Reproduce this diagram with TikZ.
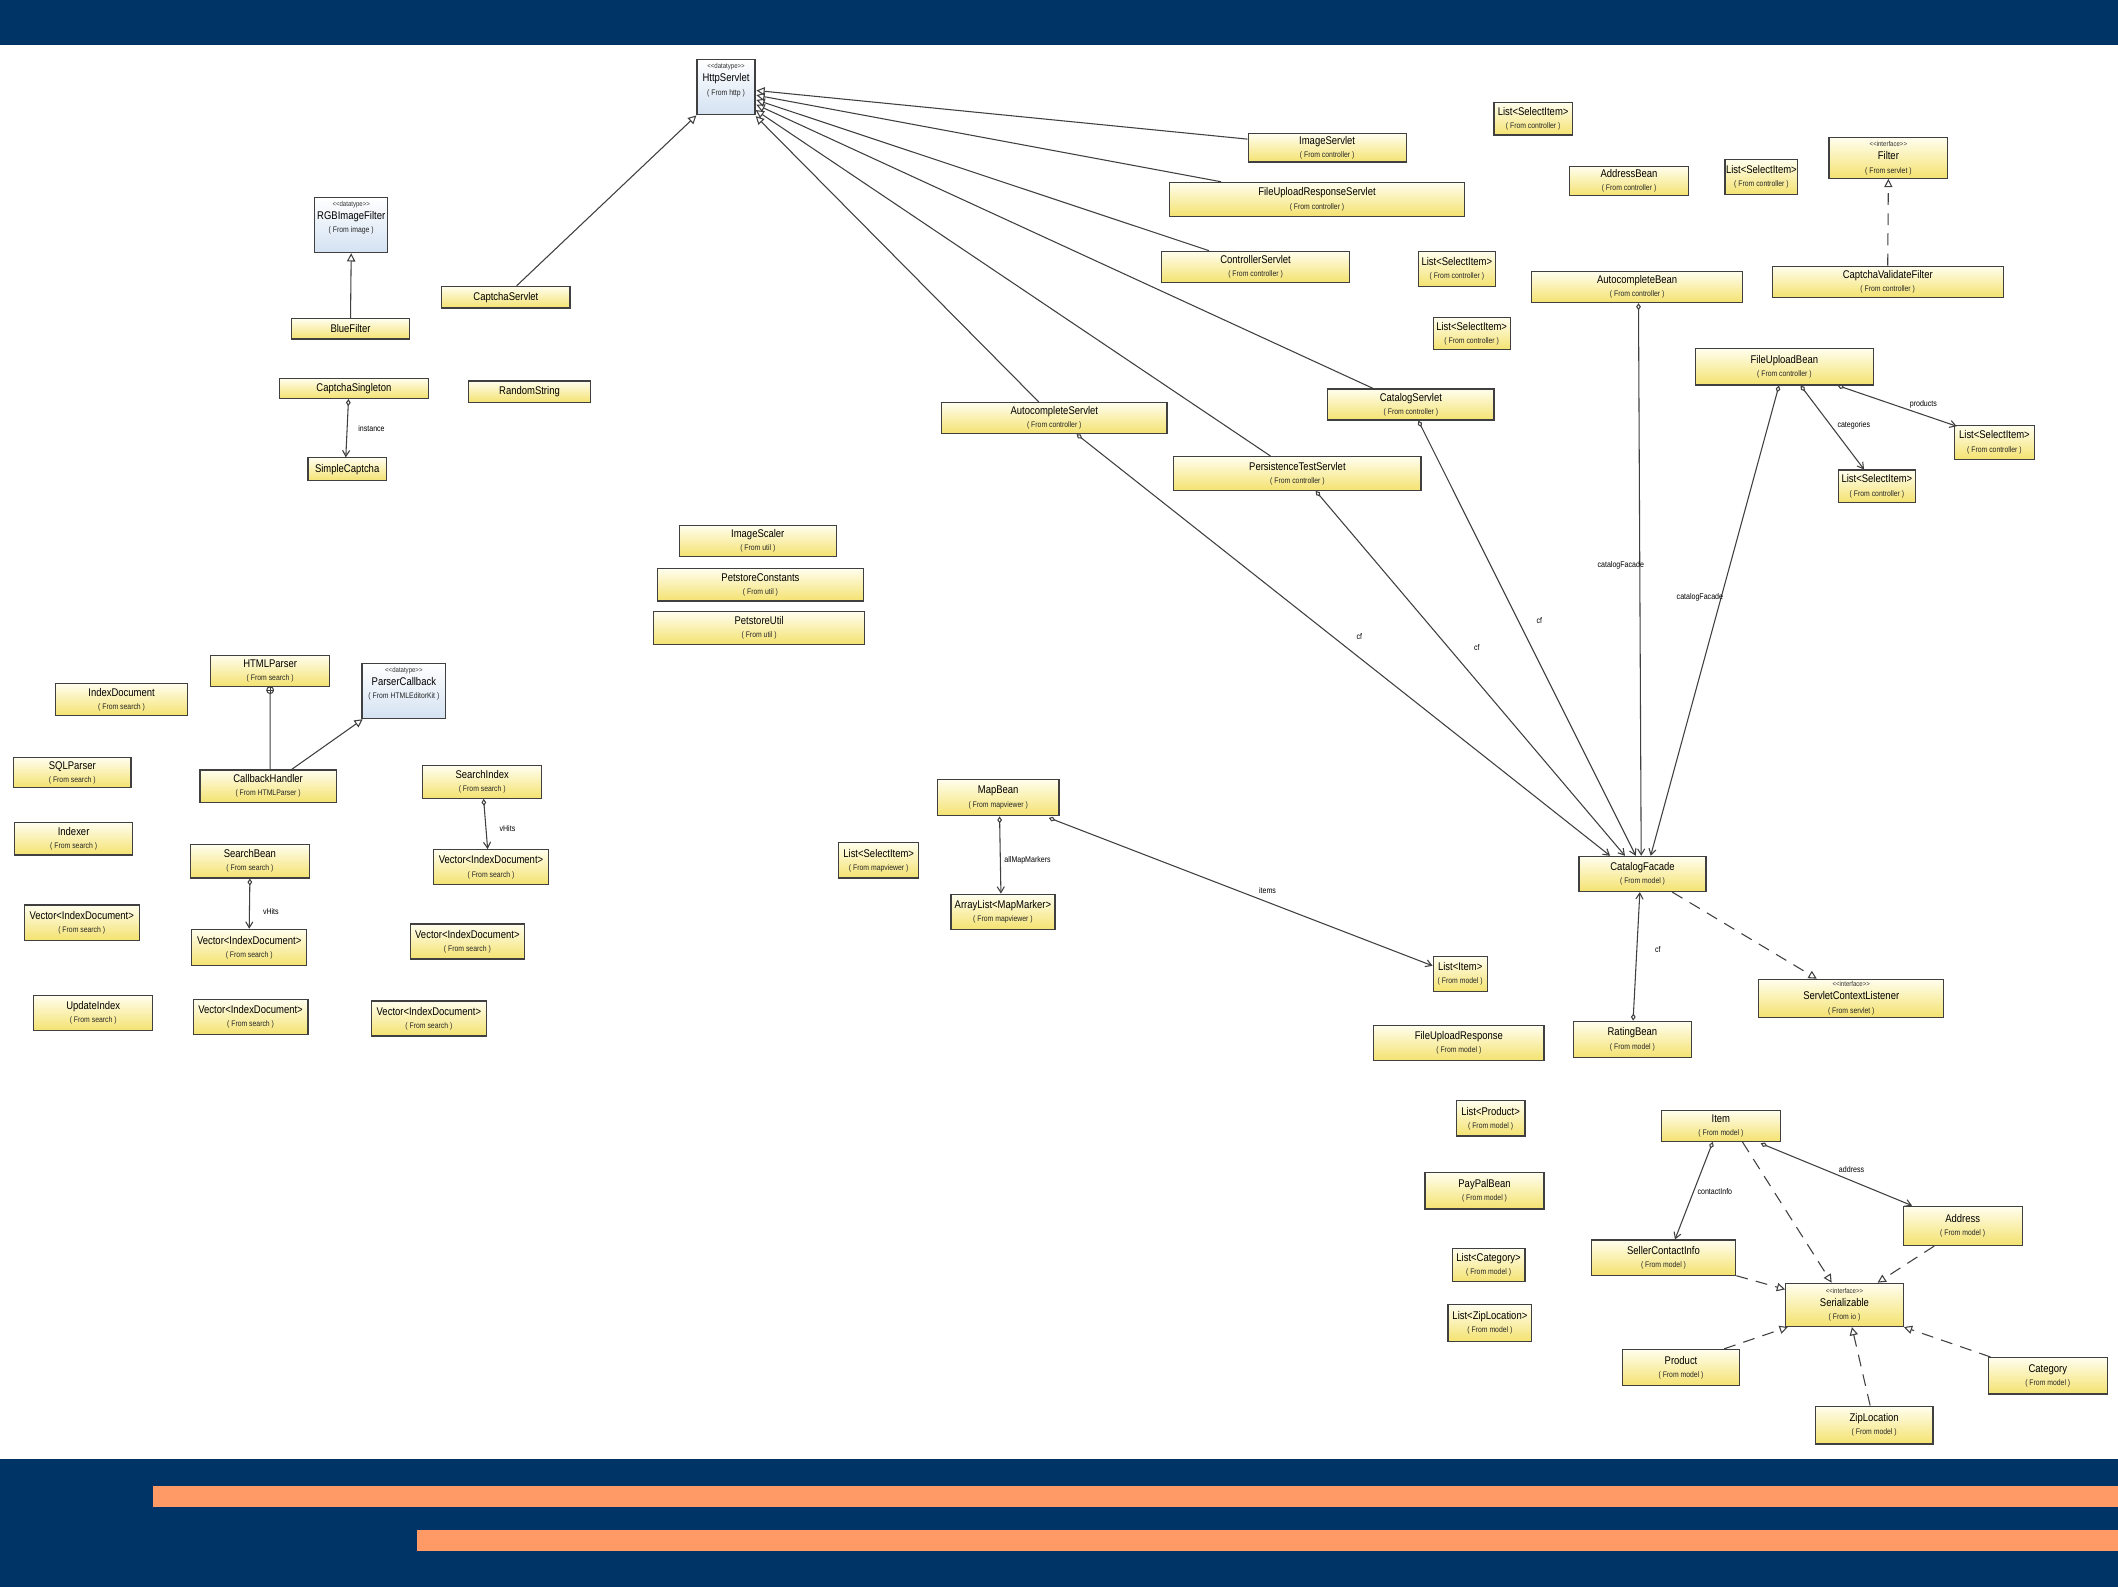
\documentclass[tikz,border=0pt]{standalone}
\usepackage{fontspec}
\usepackage{xcolor}
\usepackage{tikz}
\usetikzlibrary{arrows.meta, calc, positioning}
\newfontfamily\umlfont[FakeStretch=0.85]{Liberation Sans}
\definecolor{navy}{RGB}{0,51,102}
\definecolor{barorange}{RGB}{255,153,102}
\definecolor{boxtop}{RGB}{255,254,238}
\definecolor{boxbot}{RGB}{244,226,112}
\definecolor{dtbot}{RGB}{212,226,242}
\newcommand{\clspkg}[1]{{\fontsize{3.4}{5.6}\selectfont\color{black!85}( From #1 )}}
\newcommand{\clsstereo}[1]{{\fontsize{3}{5.6}\selectfont\color{black!80}<{}<#1>{}>}}

\begin{document}
\begin{tikzpicture}[x=0.02cm, y=-0.02cm,
    cls/.style={draw=black!75, line width=0.5pt, top color=boxtop, bottom color=boxbot, inner sep=0pt, align=center, font=\umlfont\fontsize{4.7}{5.6}\selectfont},
    dtype/.style={cls, top color=white, bottom color=dtbot},
    sz/.style 2 args={minimum width=#1*0.02cm, minimum height=#2*0.02cm},
    conn/.style={draw=black!75, line width=0.45pt},
    gen/.style={conn, -{Triangle[open, length=3.5pt, width=3.5pt]}},
    real/.style={gen, dash pattern=on 5pt off 3.5pt},
    assoc/.style={conn, {Diamond[open, length=3pt, width=2pt]}-{Straight Barb[length=2.5pt, width=3pt]}},
    lbl/.style={font=\umlfont\fontsize{3.5}{4}\selectfont, inner sep=0.5pt}
]
\useasboundingbox (0,0) rectangle (1568,1175);
\fill[white] (0,0) rectangle (1568,1175);
% frame bands
\fill[navy] (0,0) rectangle (1568,33);
\fill[navy] (0,1080) rectangle (1568,1175);
\fill[barorange] (113,1100) rectangle (1568,1116);
\fill[barorange] (309,1133) rectangle (1568,1148);

% captcha / image
\node[dtype, sz={43}{41}] (httpservlet) at (537.5,64.5) {\clsstereo{datatype}\\HttpServlet\\\clspkg{http}\\[1pt]\mbox{}};
\node[dtype, sz={54}{41}] (rgbfilter) at (260,166.5) {\clsstereo{datatype}\\RGBImageFilter\\\clspkg{image}\\[1pt]\mbox{}};
\node[cls, sz={87}{15}] (bluefilter) at (259.5,243.5) {BlueFilter};
\node[cls, sz={95}{16}] (captchaservlet) at (374.5,220) {CaptchaServlet};
\node[cls, sz={110}{15}] (captchasingleton) at (262,287.5) {CaptchaSingleton};
\node[cls, sz={90}{16}] (randomstring) at (392,290) {RandomString};
\node[cls, sz={58}{17}] (simplecaptcha) at (257,347.5) {SimpleCaptcha};

% controller
\node[cls, sz={117}{21}] (imageservlet) at (982.5,109.5) {ImageServlet\\\clspkg{controller}};
\node[cls, sz={218}{25}] (uploadrespservlet) at (975,147.5) {FileUploadResponseServlet\\\clspkg{controller}};
\node[cls, sz={139}{23}] (controllerservlet) at (929.5,197.5) {ControllerServlet\\\clspkg{controller}};
\node[cls, sz={167}{23}] (autocompleteservlet) at (780.5,309.5) {AutocompleteServlet\\\clspkg{controller}};
\node[cls, sz={123}{23}] (catalogservlet) at (1044.5,299.5) {CatalogServlet\\\clspkg{controller}};
\node[cls, sz={183}{25}] (persistservlet) at (960.5,350.5) {PersistenceTestServlet\\\clspkg{controller}};
\node[cls, sz={58}{24}] (sela) at (1135,88) {List<SelectItem>\\\clspkg{controller}};
\node[cls, sz={88}{22}] (addressbean) at (1206,134) {AddressBean\\\clspkg{controller}};
\node[cls, sz={54}{26}] (selb) at (1304,131) {List<SelectItem>\\\clspkg{controller}};
\node[cls, sz={88}{30}] (filter) at (1398,117) {\clsstereo{interface}\\Filter\\\clspkg{servlet}};
\node[cls, sz={57}{26}] (selc) at (1078.5,199) {List<SelectItem>\\\clspkg{controller}};
\node[cls, sz={57}{24}] (seld) at (1089.5,247) {List<SelectItem>\\\clspkg{controller}};
\node[cls, sz={156}{23}] (autocompletebean) at (1212,212.5) {AutocompleteBean\\\clspkg{controller}};
\node[cls, sz={171}{23}] (captchafilter) at (1397.5,208.5) {CaptchaValidateFilter\\\clspkg{controller}};
\node[cls, sz={132}{27}] (fileuploadbean) at (1321,271.5) {FileUploadBean\\\clspkg{controller}};
\node[cls, sz={59}{25}] (sele) at (1476.5,327.5) {List<SelectItem>\\\clspkg{controller}};
\node[cls, sz={57}{24}] (self) at (1389.5,360) {List<SelectItem>\\\clspkg{controller}};

% util
\node[cls, sz={116}{23}] (imagescaler) at (561,400.5) {ImageScaler\\\clspkg{util}};
\node[cls, sz={152}{24}] (petconstants) at (563,433) {PetstoreConstants\\\clspkg{util}};
\node[cls, sz={156}{24}] (petutil) at (562,465) {PetstoreUtil\\\clspkg{util}};

% search
\node[cls, sz={88}{23}] (htmlparser) at (200,496.5) {HTMLParser\\\clspkg{search}};
\node[dtype, sz={62}{41}] (parsercallback) at (299,511.5) {\clsstereo{datatype}\\ParserCallback\\\clspkg{HTMLEditorKit}\\[1pt]\mbox{}};
\node[cls, sz={98}{24}] (indexdocument) at (90,518) {IndexDocument\\\clspkg{search}};
\node[cls, sz={87}{22}] (sqlparser) at (53.5,572) {SQLParser\\\clspkg{search}};
\node[cls, sz={101}{24}] (callbackhandler) at (198.5,582) {CallbackHandler\\\clspkg{HTMLParser}};
\node[cls, sz={88}{24}] (searchindex) at (357,579) {SearchIndex\\\clspkg{search}};
\node[cls, sz={87}{24}] (indexer) at (54.5,621) {Indexer\\\clspkg{search}};
\node[cls, sz={88}{25}] (searchbean) at (185,637.5) {SearchBean\\\clspkg{search}};
\node[cls, sz={85}{26}] (veca) at (363.5,642) {Vector<IndexDocument>\\\clspkg{search}};
\node[cls, sz={85}{26}] (vecb) at (60.5,683) {Vector<IndexDocument>\\\clspkg{search}};
\node[cls, sz={85}{27}] (vecc) at (184.5,701.5) {Vector<IndexDocument>\\\clspkg{search}};
\node[cls, sz={84}{26}] (vecd) at (346,697) {Vector<IndexDocument>\\\clspkg{search}};
\node[cls, sz={88}{26}] (updateindex) at (69,750) {UpdateIndex\\\clspkg{search}};
\node[cls, sz={85}{26}] (vece) at (185.5,753) {Vector<IndexDocument>\\\clspkg{search}};
\node[cls, sz={85}{26}] (vecf) at (317.5,754) {Vector<IndexDocument>\\\clspkg{search}};

% mapviewer
\node[cls, sz={90}{27}] (mapbean) at (739,590.5) {MapBean\\\clspkg{mapviewer}};
\node[cls, sz={59}{26}] (selg) at (650.5,637) {List<SelectItem>\\\clspkg{mapviewer}};
\node[cls, sz={77}{26}] (arraylist) at (742.5,675) {ArrayList<MapMarker>\\\clspkg{mapviewer}};

% model
\node[cls, sz={40}{26}] (listitem) at (1081,721) {List<Item>\\\clspkg{model}};
\node[cls, sz={94}{26}] (catalogfacade) at (1216,647) {CatalogFacade\\\clspkg{model}};
\node[cls, sz={137}{28}] (ctxlistener) at (1370.5,739) {\clsstereo{interface}\\ServletContextListener\\\clspkg{servlet}};
\node[cls, sz={87}{27}] (ratingbean) at (1208.5,769.5) {RatingBean\\\clspkg{model}};
\node[cls, sz={126}{26}] (uploadresponse) at (1080,772) {FileUploadResponse\\\clspkg{model}};
\node[cls, sz={51}{26}] (listproduct) at (1103.5,828) {List<Product>\\\clspkg{model}};
\node[cls, sz={88}{27}] (paypalbean) at (1099,881.5) {PayPalBean\\\clspkg{model}};
\node[cls, sz={88}{23}] (item) at (1274,833.5) {Item\\\clspkg{model}};
\node[cls, sz={88}{29}] (address) at (1453,907.5) {Address\\\clspkg{model}};
\node[cls, sz={107}{26}] (sellerinfo) at (1231.5,931) {SellerContactInfo\\\clspkg{model}};
\node[cls, sz={54}{25}] (listcategory) at (1102,936.5) {List<Category>\\\clspkg{model}};
\node[cls, sz={87}{32}] (serializable) at (1365.5,966) {\clsstereo{interface}\\Serializable\\\clspkg{io}};
\node[cls, sz={62}{27}] (listzip) at (1103,979.5) {List<ZipLocation>\\\clspkg{model}};
\node[cls, sz={87}{27}] (product) at (1244.5,1012.5) {Product\\\clspkg{model}};
\node[cls, sz={88}{27}] (category) at (1516,1018.5) {Category\\\clspkg{model}};
\node[cls, sz={87}{28}] (ziplocation) at (1387.5,1055) {ZipLocation\\\clspkg{model}};

% inheritance
\draw[gen] (bluefilter.north) -- (rgbfilter.south);
\draw[gen] ($(captchaservlet.north)+(8,0)$) -- (httpservlet.south west);
\draw[gen] ($(imageservlet.west)+(0,-6.5)$) -- ($(httpservlet.east)+(0.5,2.5)$);
\draw[gen] ($(uploadrespservlet.north)+(-71,0)$) -- ($(httpservlet.east)+(0.5,6)$);
\draw[gen] ($(controllerservlet.north)+(-34.5,0)$) -- ($(httpservlet.east)+(0.5,9.5)$);
\draw[gen] ($(catalogservlet.north)+(-28,0)$) -- ($(httpservlet.east)+(0.5,13)$);
\draw[gen] ($(persistservlet.north)+(-20,0)$) -- ($(httpservlet.east)+(0,17)$);
\draw[gen] ($(autocompleteservlet.north)+(-11.5,0)$) -- ($(httpservlet.south east)+(0,0.5)$);
\draw[gen] ($(callbackhandler.north)+(17.5,0)$) -- ($(parsercallback.south west)+(1,0)$);

% associations
\draw[assoc] ($(captchasingleton.south)+(-4,0)$) -- node[lbl, right=4pt] {instance} ($(simplecaptcha.north)+(-1,0)$);
\draw[assoc] ($(autocompleteservlet.south)+(16.5,0)$) -- node[lbl, pos=.53, above=7pt] {cf} ($(catalogfacade.north)+(-24,0)$);
\draw[assoc] ($(persistservlet.south)+(13.5,0)$) -- node[lbl, pos=.43, right=10pt] {cf} ($(catalogfacade.north)+(-13,0)$);
\draw[assoc] ($(catalogservlet.south)+(5.5,0)$) -- node[lbl, pos=.46, right=7pt] {cf} ($(catalogfacade.north)+(-5,0)$);
\draw[assoc] ($(autocompletebean.south)+(1,0)$) -- node[lbl, pos=.475, xshift=-8pt] {catalogFacade} ($(catalogfacade.north)+(-1,0)$);
\draw[assoc] ($(fileuploadbean.south)+(-4,0)$) -- node[lbl, pos=.45, xshift=-9pt] {catalogFacade} ($(catalogfacade.north)+(6,0)$);
\draw[assoc] ($(ratingbean.north)+(0.5,0)$) -- node[lbl, pos=.55, right=7pt] {cf} ($(catalogfacade.south)+(-2,0)$);
\draw[assoc] ($(fileuploadbean.south)+(12,0)$) -- node[lbl, pos=.48, right=2pt] {categories} ($(self.north)+(-9.5,0)$);
\draw[assoc] ($(fileuploadbean.south east)+(-27,0)$) -- node[lbl, pos=.72, above=2pt] {products} ($(sele.north west)+(2,1)$);
\draw[assoc] ($(mapbean.south)+(1,0)$) -- node[lbl, pos=.57, right=1pt] {allMapMarkers} ($(arraylist.north)+(-1.5,0)$);
\draw[assoc] ($(mapbean.south east)+(-8,1)$) -- node[lbl, pos=.57, above=3pt] {items} ($(listitem.west)+(0,-6)$);
\draw[assoc] ($(searchindex.south)+(1,0)$) -- node[lbl, pos=.6, right=5pt] {vHits} ($(veca.north)+(-2.5,0)$);
\draw[assoc] (searchbean.south) -- node[lbl, pos=.65, right=5pt] {vHits} (vecc.north);
\draw[assoc] ($(item.south)+(-6,0)$) -- node[lbl, pos=.51, right=1pt] {contactInfo} ($(sellerinfo.north)+(8.5,0)$);
\draw[assoc] ($(item.south east)+(-15,1)$) -- node[lbl, pos=.6, above=2.5pt] {address} ($(address.north west)+(7,0)$);

% nesting
\draw[conn] ($(callbackhandler.north)+(1.5,0)$) -- ($(htmlparser.south)+(0,5)$);
\draw[conn] ($(htmlparser.south)+(0,2.5)$) circle[radius=2.5];
\draw[conn] ($(htmlparser.south)+(-2.5,2.5)$) -- ++(5,0) (htmlparser.south) -- ++(0,5);

% realizations
\draw[real] (captchafilter.north) -- (filter.south);
\draw[real] ($(catalogfacade.south)+(22,0)$) -- ($(ctxlistener.north)+(-25.5,0)$);
\draw[real] ($(item.south)+(16,0)$) -- ($(serializable.north)+(-9.5,0)$);
\draw[real] ($(address.south)+(-21,0)$) -- ($(serializable.north)+(24.5,0)$);
\draw[real] (sellerinfo.south east) -- ($(serializable.north west)+(0,5)$);
\draw[real] ($(product.north east)+(-12,0)$) -- ($(serializable.south west)+(2,0)$);
\draw[real] ($(ziplocation.north)+(-3,0)$) -- ($(serializable.south)+(5.5,0)$);
\draw[real] ($(category.north west)+(2,0)$) -- (serializable.south east);

\end{tikzpicture}
\end{document}
